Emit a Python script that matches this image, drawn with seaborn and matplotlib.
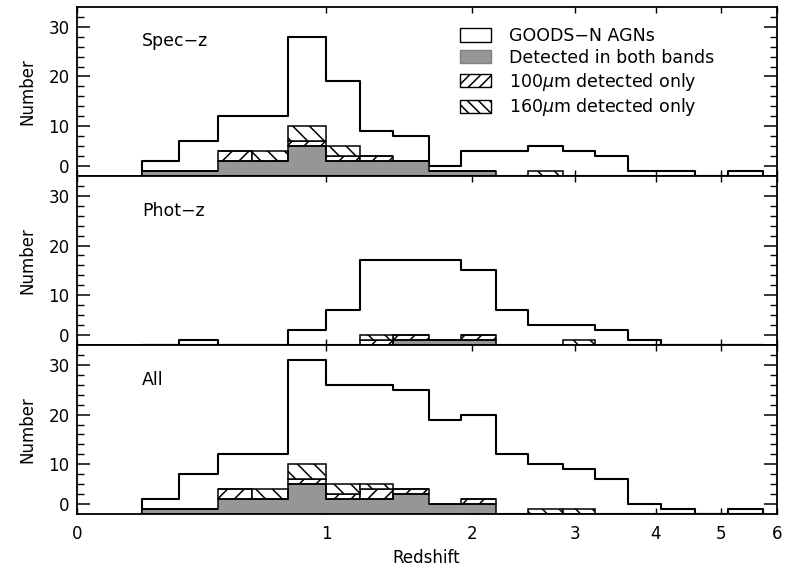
import numpy as np
import pandas as pd
import matplotlib
matplotlib.use("Agg")
import matplotlib.pyplot as plt
import matplotlib.colors as mcolors
from matplotlib.patches import Patch
import seaborn as sns

# ---------------- data ----------------
z_edges = [0.20, 0.33, 0.48, 0.63, 0.80, 1.00, 1.20, 1.41, 1.66, 1.91,
           2.21, 2.51, 2.87, 3.22, 3.63, 4.07, 4.58, 5.12, 5.73]

spec_total = [3, 7, 12, 12, 28, 19, 9, 8, 2, 5, 5, 6, 5, 4, 1, 1, 0, 1]
spec_both  = [1, 1, 3, 3, 6, 3, 3, 3, 1, 1, 0, 0, 0, 0, 0, 0, 0, 0]
spec_100   = [0, 0, 2, 0, 1, 1, 1, 0, 0, 0, 0, 0, 0, 0, 0, 0, 0, 0]
spec_160   = [0, 0, 0, 2, 3, 2, 0, 0, 0, 0, 0, 1, 0, 0, 0, 0, 0, 0]

phot_total = [0, 1, 0, 0, 3, 7, 17, 17, 17, 15, 7, 4, 4, 3, 1, 0, 0, 0]
phot_both  = [0, 0, 0, 0, 0, 0, 0, 1, 1, 1, 0, 0, 0, 0, 0, 0, 0, 0]
phot_100   = [0, 0, 0, 0, 0, 0, 1, 1, 0, 1, 0, 0, 0, 0, 0, 0, 0, 0]
phot_160   = [0, 0, 0, 0, 0, 0, 1, 0, 0, 0, 0, 0, 1, 0, 0, 0, 0, 0]

all_total  = [3, 8, 12, 12, 31, 26, 26, 25, 19, 20, 12, 10, 9, 7, 2, 1, 0, 1]
all_both   = [1, 1, 3, 3, 6, 3, 3, 4, 2, 2, 0, 0, 0, 0, 0, 0, 0, 0]
all_100    = [0, 0, 2, 0, 1, 1, 2, 1, 0, 1, 0, 0, 0, 0, 0, 0, 0, 0]
all_160    = [0, 0, 0, 2, 3, 2, 1, 0, 0, 0, 0, 1, 1, 0, 0, 0, 0, 0]

panel_names = ["Spec\u2212z", "Phot\u2212z", "All"]
x_tick_values = [0, 1, 2, 3, 4, 5, 6]
y_tick_values = [2, 10, 20, 30]
y_tick_labels = ["0", "10", "20", "30"]
y_minor_values = [4, 6, 8, 12, 14, 16, 18, 22, 24, 26, 28, 32]
legend_labels = ["GOODS\u2212N AGNs", "Detected in both bands",
                 r"100$\mu$m detected only", r"160$\mu$m detected only"]

# ---------------- style ----------------
sns.set_theme(style="ticks")
plt.rcParams["font.family"] = ["DejaVu Sans"]
plt.rcParams["hatch.linewidth"] = 1.1
plt.rcParams["hatch.color"] = "black"
for key in ["text.color", "axes.labelcolor", "xtick.color", "ytick.color",
            "axes.edgecolor"]:
    plt.rcParams[key] = "black"

GRAY = "#969696"
C100 = "#fefefe"   # sentinel colours, replaced by hatching
C160 = "#fdfdfd"

edges_arr = np.log10(1 + np.array(z_edges))
edges = [float(e) for e in edges_arr]
centers = 0.5 * (edges_arr[:-1] + edges_arr[1:])

fig, axes = plt.subplots(3, 1, figsize=(7.97, 5.70), dpi=100, sharex=True)
fig.subplots_adjust(left=0.0962, right=0.9745, top=0.988, bottom=0.0982, hspace=0)

panels = [
    (spec_total, spec_both, spec_100, spec_160),
    (phot_total, phot_both, phot_100, phot_160),
    (all_total, all_both, all_100, all_160),
]

for ax, name, (tot, both, d100, d160) in zip(axes, panel_names, panels):
    # total outline
    df_tot = pd.DataFrame({"x": centers, "w": tot})
    sns.histplot(data=df_tot, x="x", weights="w", bins=edges, element="step",
                 fill=True, color="black", facecolor="none", edgecolor="black",
                 linewidth=1.5, ax=ax)
    # detected, stacked
    df = pd.DataFrame({
        "x": np.tile(centers, 3),
        "w": np.concatenate([both, d100, d160]),
        "kind": np.repeat(["both", "100", "160"], len(centers)),
    })
    sns.histplot(data=df, x="x", weights="w", hue="kind",
                 hue_order=["160", "100", "both"], multiple="stack",
                 bins=edges, element="bars",
                 palette={"both": GRAY, "100": C100, "160": C160},
                 edgecolor="black", linewidth=1.1, alpha=1, legend=False, ax=ax)
    for p in ax.patches:
        fc = mcolors.to_hex(p.get_facecolor())
        if fc == C100:
            p.set_facecolor("white")
            p.set_hatch("//")
        elif fc == C160:
            p.set_facecolor("white")
            p.set_hatch("\\\\")
        elif fc == GRAY:
            p.set_edgecolor("none")
    # outline of the grey (both-band) histogram
    df_both = pd.DataFrame({"x": centers, "w": both})
    sns.histplot(data=df_both, x="x", weights="w", bins=edges, element="step",
                 fill=True, color="black", facecolor="none", edgecolor="black",
                 linewidth=1.1, ax=ax)

    ax.text(0.093, 0.795, name, transform=ax.transAxes, fontsize=12.5,
            ha="left", va="center")

    ax.set_xlim(0, np.log10(7))
    ax.set_ylim(0, 34)
    ax.set_yticks(y_tick_values)
    ax.set_yticklabels(y_tick_labels)
    ax.set_yticks(y_minor_values, minor=True)
    ax.tick_params(axis="y", which="major", direction="in", length=9.5, width=1.1,
                   left=True, right=True, labelsize=12, pad=5)
    ax.tick_params(axis="y", which="minor", direction="in", length=5, width=1.0,
                   left=True, right=True)
    ax.tick_params(axis="x", which="major", direction="in", length=4.5, width=1.0,
                   top=True, bottom=True, labelsize=12, pad=8)
    ax.tick_params(axis="x", which="minor", bottom=False, top=False)
    ax.set_ylabel("Number", fontsize=12)
    ax.yaxis.set_label_coords(-0.058, 0.5)
    ax.set_xlabel("")
    for s in ax.spines.values():
        s.set_linewidth(1.3)
        s.set_color("black")

axes[2].set_xticks(np.log10(1 + np.array(x_tick_values)))
axes[2].set_xticklabels([str(v) for v in x_tick_values])
axes[2].set_xlabel("Redshift", fontsize=12, labelpad=4)

handles = [
    Patch(facecolor="white", edgecolor="black", linewidth=1.0),
    Patch(facecolor=GRAY, edgecolor="#808080", linewidth=1.0),
    Patch(facecolor="white", edgecolor="black", linewidth=1.0, hatch="///"),
    Patch(facecolor="white", edgecolor="black", linewidth=1.0, hatch="\\\\\\"),
]
axes[0].legend(handles, legend_labels, loc="upper left",
               bbox_to_anchor=(460 / 797, 1 - 27 / 570),
               bbox_transform=fig.transFigure, frameon=False, fontsize=12.5,
               handlelength=1.8, handleheight=0.8, handletextpad=1.0,
               labelspacing=0.22, borderpad=0, borderaxespad=0)

fig.savefig("out.png", dpi=100)
